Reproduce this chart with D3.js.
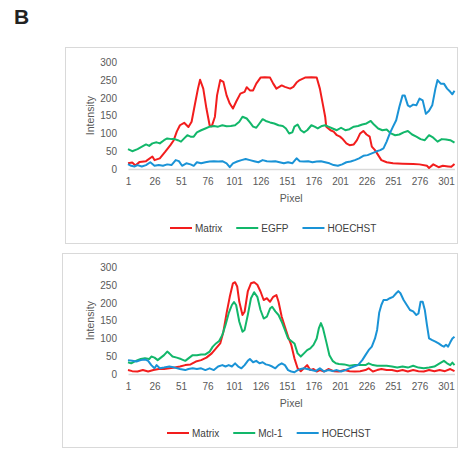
<!DOCTYPE html>
<html>
<head>
  <meta charset="utf-8">
  <title>Intensity profiles</title>
  <script src="https://d3js.org/d3.v7.min.js"></script>
  <style>
    body { margin: 0; background: #fff; font-family: "Liberation Sans", Arial, sans-serif; }
    .tick text { fill: #595959; font-size: 10px; }
    .axis-title { fill: #595959; font-size: 10.5px; }
    .legend text { fill: #404040; font-size: 10px; }
  </style>
</head>
<body>
  <svg width="468" height="450"></svg>

  <script>
    // pixel positions along the profile that carry a tick label
    const pixelTicks = [1, 26, 51, 76, 101, 126, 151, 176, 201, 226, 251, 276, 301];
    const intensityTicks = [0, 50, 100, 150, 200, 250, 300];
    const lastPixel = 309;

    // top profile: [pixel, intensity]
    const topMatrix = [[1,16],[5,18],[8,10],[12,20],[18,22],[24,35],[26,25],[31,30],[36,48],[41,67],[44,80],[47,105],[50,123],[54,130],[58,118],[61,133],[64,180],[67,226],[69,251],[72,226],[75,170],[78,123],[80,120],[83,147],[85,207],[88,250],[91,245],[94,207],[97,184],[100,170],[103,189],[107,212],[111,217],[113,230],[116,221],[119,221],[122,240],[126,257],[130,258],[135,257],[138,240],[141,226],[146,235],[149,231],[154,226],[157,231],[160,243],[163,250],[168,257],[174,258],[179,257],[182,226],[185,179],[187,147],[188,119],[192,109],[195,105],[198,95],[201,91],[203,86],[207,72],[210,67],[214,69],[217,81],[220,100],[223,107],[226,97],[229,91],[231,63],[234,53],[237,39],[240,25],[245,19],[251,16],[260,15],[270,14],[276,13],[283,9],[285,3],[289,13],[294,5],[298,9],[303,7],[306,6],[309,14]];
    const topEgfp = [[1,56],[5,50],[10,56],[15,64],[18,69],[21,65],[24,72],[28,75],[31,72],[35,81],[38,86],[42,84],[45,84],[48,81],[51,77],[54,86],[57,95],[60,91],[63,91],[66,103],[70,109],[74,114],[78,119],[82,121],[86,119],[90,123],[94,120],[98,121],[102,123],[106,133],[109,147],[113,142],[116,131],[119,119],[122,116],[125,128],[128,140],[131,135],[135,131],[139,128],[143,123],[147,121],[150,114],[153,100],[156,103],[158,119],[161,125],[164,109],[167,103],[170,109],[174,123],[177,119],[180,114],[184,121],[187,123],[190,119],[194,114],[198,109],[202,116],[206,109],[210,112],[214,119],[218,121],[222,125],[226,128],[230,135],[233,125],[237,114],[241,109],[245,111],[249,100],[253,95],[257,97],[261,103],[265,107],[269,97],[273,91],[277,84],[281,81],[285,95],[289,88],[293,77],[297,84],[301,83],[305,81],[309,74]];
    const topHoechst = [[1,14],[4,9],[7,7],[10,11],[14,7],[18,11],[22,19],[26,9],[30,11],[34,9],[38,13],[42,11],[46,25],[49,22],[52,9],[56,16],[60,13],[63,9],[66,19],[70,16],[74,19],[78,21],[82,22],[86,21],[90,22],[94,16],[97,5],[100,16],[104,21],[108,25],[112,28],[116,25],[120,22],[124,19],[128,25],[132,22],[136,21],[140,22],[144,19],[148,16],[152,19],[156,16],[160,30],[163,22],[167,21],[171,22],[175,19],[179,21],[183,22],[187,19],[191,16],[195,11],[199,9],[203,13],[207,19],[211,21],[215,25],[219,30],[223,37],[227,39],[231,44],[235,49],[239,53],[242,58],[245,77],[248,100],[251,119],[254,137],[257,175],[260,207],[262,207],[265,179],[267,175],[270,181],[273,179],[276,198],[279,193],[282,155],[285,164],[288,179],[291,226],[293,250],[296,240],[299,240],[302,226],[305,217],[307,210],[309,220]];

    // bottom profile: [pixel, intensity]
    const botMatrix = [[1,11],[5,8],[10,7],[15,11],[20,7],[25,11],[30,14],[35,14],[40,16],[45,18],[50,21],[55,25],[60,27],[65,35],[70,39],[75,46],[80,58],[84,72],[88,86],[91,119],[94,171],[97,217],[100,255],[102,258],[104,246],[106,203],[109,166],[111,175],[114,232],[117,255],[120,258],[123,251],[126,232],[129,208],[132,213],[135,203],[138,217],[141,222],[143,203],[146,161],[149,133],[152,105],[155,82],[158,44],[161,16],[164,8],[167,16],[170,25],[173,11],[176,14],[179,7],[182,11],[186,7],[190,14],[195,8],[200,7],[205,11],[210,8],[215,7],[220,8],[225,11],[228,16],[232,7],[236,11],[240,14],[245,11],[250,11],[255,8],[260,11],[265,7],[270,11],[275,8],[280,7],[285,11],[290,8],[295,11],[300,8],[305,14],[309,8]];
    const botMcl1 = [[1,33],[4,30],[7,35],[10,39],[13,42],[17,44],[21,42],[23,49],[26,46],[29,39],[32,46],[35,53],[38,63],[40,58],[43,49],[47,46],[51,42],[55,37],[58,44],[62,53],[66,53],[70,55],[74,55],[78,63],[81,77],[84,86],[87,93],[90,110],[93,138],[96,171],[99,194],[101,202],[103,194],[106,147],[109,119],[111,124],[114,166],[117,213],[120,230],[123,217],[126,180],[129,156],[132,161],[135,184],[137,189],[140,176],[143,166],[146,147],[149,124],[152,100],[155,93],[158,86],[161,58],[164,49],[167,58],[170,67],[173,72],[176,82],[179,100],[181,128],[183,143],[185,128],[188,91],[191,53],[194,37],[197,30],[200,28],[205,27],[210,23],[215,25],[220,25],[225,25],[228,30],[232,25],[236,23],[240,23],[245,23],[250,21],[255,18],[260,21],[265,18],[270,23],[275,18],[280,16],[285,18],[290,21],[295,30],[299,37],[302,30],[305,25],[307,32],[309,25]];
    const botHoechst = [[1,39],[5,37],[9,35],[13,39],[17,41],[20,37],[23,25],[26,16],[28,25],[31,16],[35,18],[40,21],[45,18],[50,14],[55,11],[58,14],[62,16],[66,14],[70,16],[74,11],[78,16],[82,11],[86,21],[90,25],[93,21],[96,25],[99,21],[102,30],[105,21],[108,16],[111,25],[114,37],[116,42],[119,33],[122,37],[125,30],[128,33],[131,27],[134,25],[137,21],[140,16],[143,25],[146,30],[149,25],[152,11],[155,7],[158,5],[161,11],[164,14],[167,16],[170,14],[174,11],[178,8],[182,16],[186,7],[190,11],[194,8],[198,11],[202,7],[206,11],[210,16],[214,21],[218,25],[222,39],[225,53],[228,67],[231,77],[234,100],[236,124],[238,173],[240,194],[242,208],[245,208],[248,213],[251,217],[254,227],[256,233],[258,227],[261,208],[264,194],[267,180],[270,176],[273,166],[275,170],[277,203],[279,203],[281,180],[283,138],[285,100],[288,95],[291,91],[294,86],[297,80],[299,77],[301,82],[303,77],[305,89],[307,100],[309,105]];

    const colors = { matrix: "#f21d1d", green: "#12b76a", blue: "#1a93d6" };

    const svg = d3.select("svg");

    svg.append("text")
      .attr("x", 14).attr("y", 24)
      .attr("font-size", 21).attr("font-weight", "bold").attr("fill", "#222")
      .text("B");

    function drawPanel(box, plot, series, legendX) {
      const g = svg.append("g");

      g.append("rect")
        .attr("x", box.x + 0.5).attr("y", box.y + 0.5)
        .attr("width", box.w).attr("height", box.h)
        .attr("fill", "#fff").attr("stroke", "#d9d9d9");

      const x = d3.scaleLinear().domain([1, lastPixel]).range([plot.left, plot.right]);
      const y = d3.scaleLinear().domain([0, 300]).range([plot.bottom, plot.top]);

      g.append("g")
        .attr("transform", `translate(${plot.left - 11},0)`)
        .call(d3.axisLeft(y).tickValues(intensityTicks).tickSize(0).tickPadding(0))
        .call(a => a.select(".domain").remove())
        .call(a => a.selectAll("text").attr("font-family", "Liberation Sans, Arial, sans-serif"));

      g.append("g")
        .attr("transform", `translate(0,${plot.bottom})`)
        .call(d3.axisBottom(x).tickValues(pixelTicks).tickSize(0).tickPadding(9))
        .call(a => a.select(".domain").attr("stroke", "#d9d9d9").attr("stroke-width", 1.5))
        .call(a => a.selectAll("text").attr("font-family", "Liberation Sans, Arial, sans-serif"));

      g.append("text")
        .attr("class", "axis-title")
        .attr("transform", `translate(${plot.left - 38},${(plot.top + plot.bottom) / 2}) rotate(-90)`)
        .attr("text-anchor", "middle").attr("dy", "0.35em")
        .text("Intensity");

      g.append("text")
        .attr("class", "axis-title")
        .attr("x", (plot.left + plot.right) / 2).attr("y", plot.bottom + 33)
        .attr("text-anchor", "middle")
        .text("Pixel");

      const line = d3.line().x(d => x(d[0])).y(d => y(d[1]));

      series.forEach(s => {
        g.append("path")
          .datum(s.values)
          .attr("fill", "none")
          .attr("stroke", s.color)
          .attr("stroke-width", 2)
          .attr("stroke-linejoin", "round")
          .attr("d", line);
      });

      // legend
      const leg = g.append("g").attr("class", "legend");
      let cx = legendX;
      const ly = plot.bottom + 59;
      series.forEach(s => {
        leg.append("line")
          .attr("x1", cx).attr("x2", cx + 22)
          .attr("y1", ly).attr("y2", ly)
          .attr("stroke", s.color).attr("stroke-width", 2);
        const t = leg.append("text")
          .attr("x", cx + 25).attr("y", ly).attr("dy", "0.35em")
          .text(s.name);
        cx += 25 + t.node().getComputedTextLength() + 14;
      });
    }

    drawPanel(
      { x: 65, y: 47, w: 392, h: 196 },
      { left: 128, right: 454.5, top: 62.3, bottom: 169 },
      [
        { name: "Matrix", values: topMatrix, color: colors.matrix },
        { name: "EGFP", values: topEgfp, color: colors.green },
        { name: "HOECHST", values: topHoechst, color: colors.blue }
      ],
      170
    );

    drawPanel(
      { x: 62, y: 253, w: 395, h: 194 },
      { left: 128, right: 454.5, top: 267.3, bottom: 374 },
      [
        { name: "Matrix", values: botMatrix, color: colors.matrix },
        { name: "Mcl-1", values: botMcl1, color: colors.green },
        { name: "HOECHST", values: botHoechst, color: colors.blue }
      ],
      167
    );
  </script>
</body>
</html>
